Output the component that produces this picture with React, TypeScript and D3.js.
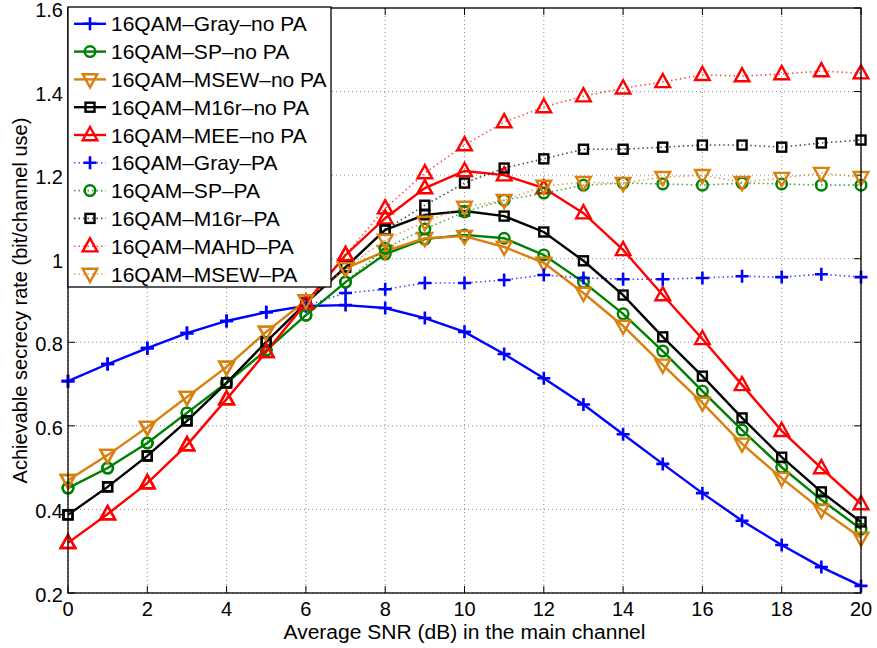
import React from "react";
import * as d3 from "d3";

const snr = d3.range(0, 21);
const xTicks = [0, 2, 4, 6, 8, 10, 12, 14, 16, 18, 20];
const yTicks = [0.2, 0.4, 0.6, 0.8, 1.0, 1.2, 1.4, 1.6];
const yTickLabels = ["0.2", "0.4", "0.6", "0.8", "1", "1.2", "1.4", "1.6"];

const grayNoPA = [0.707,0.748,0.786,0.822,0.851,0.872,0.887,0.889,0.882,0.858,0.825,0.772,0.714,0.651,0.580,0.509,0.439,0.373,0.315,0.262,0.217];
const spNoPA = [0.451,0.499,0.559,0.631,0.703,0.781,0.865,0.944,1.011,1.047,1.057,1.049,1.009,0.944,0.868,0.779,0.683,0.590,0.501,0.423,0.353];
const msewNoPA = [0.470,0.530,0.597,0.669,0.741,0.825,0.900,0.977,1.018,1.049,1.054,1.028,0.990,0.918,0.839,0.746,0.655,0.557,0.475,0.399,0.332];
const m16rNoPA = [0.387,0.454,0.528,0.612,0.703,0.801,0.894,0.980,1.069,1.105,1.114,1.102,1.064,0.995,0.913,0.813,0.719,0.619,0.525,0.442,0.370];
const meeNoPA = [0.320,0.389,0.463,0.554,0.664,0.777,0.894,1.009,1.097,1.169,1.210,1.200,1.169,1.109,1.021,0.913,0.808,0.698,0.588,0.499,0.413];
const grayPA = [0.707,0.748,0.786,0.822,0.851,0.872,0.887,0.918,0.927,0.942,0.942,0.949,0.961,0.954,0.951,0.951,0.954,0.958,0.956,0.963,0.956];
const spPA = [0.451,0.499,0.559,0.631,0.703,0.781,0.865,0.944,1.025,1.071,1.112,1.140,1.157,1.176,1.181,1.179,1.176,1.181,1.179,1.176,1.176];
const m16rPA = [0.387,0.454,0.528,0.612,0.703,0.801,0.894,0.980,1.069,1.128,1.181,1.217,1.239,1.262,1.262,1.267,1.272,1.272,1.267,1.277,1.284];
const mahdPA = [0.320,0.389,0.463,0.554,0.664,0.777,0.894,1.009,1.121,1.205,1.272,1.327,1.363,1.389,1.408,1.423,1.440,1.437,1.442,1.449,1.444];
const msewPA = [0.470,0.530,0.597,0.669,0.741,0.825,0.900,0.977,1.045,1.088,1.124,1.140,1.174,1.183,1.181,1.195,1.200,1.183,1.193,1.205,1.195];

const BLUE = "#0000ff";
const GREEN = "#008000";
const ORANGE = "#d9800f";
const BLACK = "#000000";
const RED = "#ff0000";

type S = { name: string; values: number[]; color: string; marker: string; dotted: boolean };
const series: S[] = [
  { name: "16QAM\u2013Gray\u2013no PA", values: grayNoPA, color: BLUE, marker: "plus", dotted: false },
  { name: "16QAM\u2013SP\u2013no PA", values: spNoPA, color: GREEN, marker: "circle", dotted: false },
  { name: "16QAM\u2013MSEW\u2013no PA", values: msewNoPA, color: ORANGE, marker: "tridown", dotted: false },
  { name: "16QAM\u2013M16r\u2013no PA", values: m16rNoPA, color: BLACK, marker: "square", dotted: false },
  { name: "16QAM\u2013MEE\u2013no PA", values: meeNoPA, color: RED, marker: "triup", dotted: false },
  { name: "16QAM\u2013Gray\u2013PA", values: grayPA, color: BLUE, marker: "plus", dotted: true },
  { name: "16QAM\u2013SP\u2013PA", values: spPA, color: GREEN, marker: "circle", dotted: true },
  { name: "16QAM\u2013M16r\u2013PA", values: m16rPA, color: BLACK, marker: "square", dotted: true },
  { name: "16QAM\u2013MAHD\u2013PA", values: mahdPA, color: RED, marker: "triup", dotted: true },
  { name: "16QAM\u2013MSEW\u2013PA", values: msewPA, color: ORANGE, marker: "tridown", dotted: true },
];

const FONT = "'Liberation Sans', Arial, Helvetica, sans-serif";

function Marker({ type, x, y, color, k }: { type: string; x: number; y: number; color: string; k: string }) {
  const sw = 2.4;
  if (type === "plus") {
    return <path key={k} d={`M${x - 6.5},${y}H${x + 6.5}M${x},${y - 6.5}V${y + 6.5}`} stroke={color} strokeWidth={2.6} fill="none" />;
  }
  if (type === "circle") {
    return <circle key={k} cx={x} cy={y} r={5.3} stroke={color} strokeWidth={sw} fill="none" />;
  }
  if (type === "square") {
    return <rect key={k} x={x - 4.5} y={y - 4.5} width={9} height={9} stroke={color} strokeWidth={sw} fill="none" />;
  }
  if (type === "triup") {
    return <polygon key={k} points={`${x},${y - 8} ${x - 7.3},${y + 5.2} ${x + 7.3},${y + 5.2}`} stroke={color} strokeWidth={sw} fill="none" strokeLinejoin="miter" />;
  }
  return <polygon key={k} points={`${x},${y + 8} ${x - 7.3},${y - 5.2} ${x + 7.3},${y - 5.2}`} stroke={color} strokeWidth={sw} fill="none" strokeLinejoin="miter" />;
}

export default function App() {
  const W = 877, H = 648;
  const left = 68, right = 861, top = 8, bottom = 593;
  const x = d3.scaleLinear().domain([0, 20]).range([left, right]);
  const y = d3.scaleLinear().domain([0.2, 1.6]).range([bottom, top]);
  const line = d3.line<number>().x((_, i) => x(snr[i])).y((v) => y(v));

  const legX = 68, legY = 7, legW = 263, legH = 280;
  const legStep = 27.8;
  const legFirst = 23.8;

  return (
    <svg width={W} height={H} style={{ position: "absolute", left: 0, top: 0, background: "#fff" }} fontFamily={FONT}>
      <rect x={0} y={0} width={W} height={H} fill="#fff" />
      {xTicks.map((t) => (
        <line key={"gx" + t} x1={x(t)} x2={x(t)} y1={top} y2={bottom} stroke="#8c8c8c" strokeWidth={1} strokeDasharray="1 3" />
      ))}
      {yTicks.map((t) => (
        <line key={"gy" + t} x1={left} x2={right} y1={y(t)} y2={y(t)} stroke="#8c8c8c" strokeWidth={1} strokeDasharray="1 3" />
      ))}
      {xTicks.map((t) => (
        <g key={"tx" + t}>
          <line x1={x(t)} x2={x(t)} y1={bottom} y2={bottom - 7} stroke="#000" />
          <line x1={x(t)} x2={x(t)} y1={top} y2={top + 7} stroke="#000" />
          <text x={x(t)} y={616} fontSize={20} textAnchor="middle" fill="#000">{t}</text>
        </g>
      ))}
      {yTicks.map((t, i) => (
        <g key={"ty" + t}>
          <line x1={left} x2={left + 7} y1={y(t)} y2={y(t)} stroke="#000" />
          <line x1={right} x2={right - 7} y1={y(t)} y2={y(t)} stroke="#000" />
          <text x={63} y={y(t) + 9} fontSize={20} textAnchor="end" fill="#000">{yTickLabels[i]}</text>
        </g>
      ))}
      {series.map((s, si) => (
        <g key={"s" + si}>
          <path
            d={line(s.values) || ""}
            fill="none"
            stroke={s.color}
            strokeWidth={s.dotted ? 1.6 : 2.4}
            strokeDasharray={s.dotted ? "1.5 3" : undefined}
            strokeOpacity={s.dotted ? 0.7 : 1}
          />
          {s.values.map((v, i) => (
            <Marker key={"m" + si + "-" + i} k={"m" + si + "-" + i} type={s.marker} x={x(snr[i])} y={y(v)} color={s.color} />
          ))}
        </g>
      ))}
      <rect x={left} y={top} width={right - left} height={bottom - top} fill="none" stroke="#000" strokeWidth={1.3} />
      <text x={(left + right) / 2} y={639} fontSize={20} textAnchor="middle" fill="#000" textLength={362} lengthAdjust="spacingAndGlyphs">Average SNR (dB) in the main channel</text>
      <text transform={`translate(27,${(top + bottom) / 2}) rotate(-90)`} fontSize={20} textAnchor="middle" fill="#000">
        Achievable secrecy rate (bit/channel use)
      </text>
      <rect x={legX} y={legY} width={legW} height={legH} fill="#fff" stroke="#000" strokeWidth={1.3} />
      {series.map((s, si) => {
        const cy = legFirst + si * legStep;
        return (
          <g key={"l" + si}>
            <line
              x1={74}
              x2={106}
              y1={cy}
              y2={cy}
              stroke={s.color}
              strokeWidth={s.dotted ? 1.6 : 2.4}
              strokeDasharray={s.dotted ? "1.5 3" : undefined}
              strokeOpacity={s.dotted ? 0.7 : 1}
            />
            <Marker k={"lm" + si} type={s.marker} x={90} y={cy} color={s.color} />
            <text x={111} y={cy + 7.5} fontSize={21} fill="#000">{s.name}</text>
          </g>
        );
      })}
    </svg>
  );
}
